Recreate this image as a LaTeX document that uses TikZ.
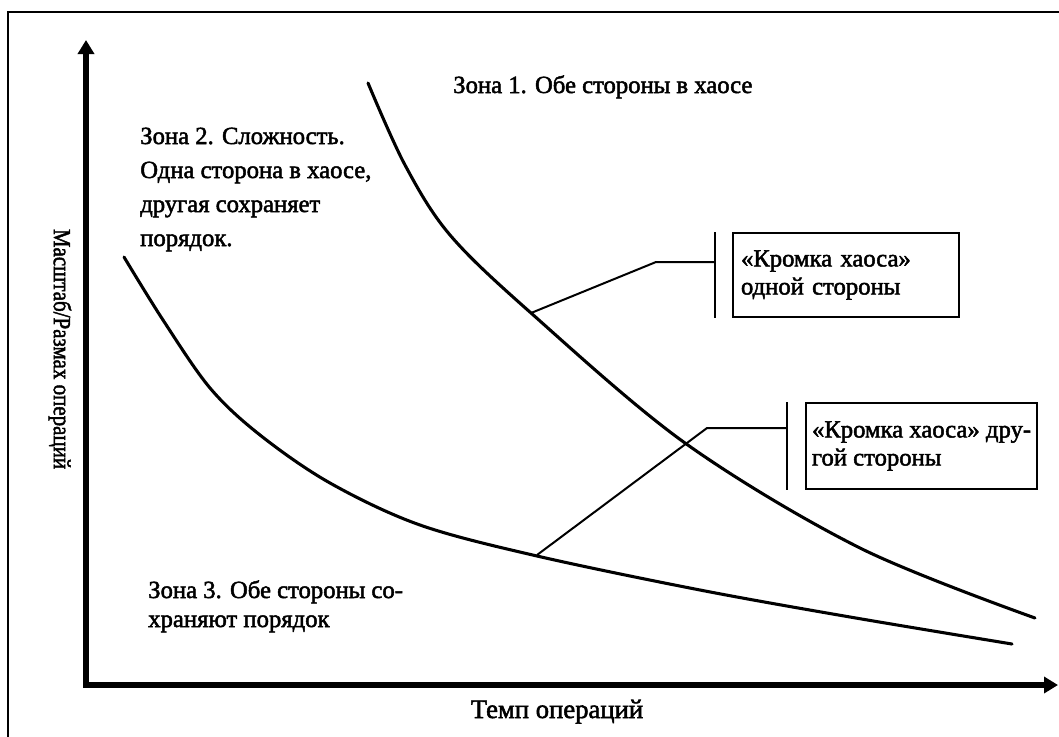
\documentclass[tikz,border=0pt]{standalone}
\usepackage{fontspec}
\setmainfont{Liberation Serif}
\newfontfamily\lblfont{Liberation Serif}[FakeBold=2]
\usetikzlibrary{arrows.meta}
\begin{document}
\begin{tikzpicture}[x=0.75pt,y=-0.75pt,
  frameline/.style={line width=1.5pt},
  axisline/.style={line width=4.2pt,line join=miter,
    arrows={Triangle[length=10.5pt,width=12pt]-Triangle[length=10.5pt,width=12pt]}},
  curveline/.style={line width=2.3pt,line cap=round},
  leader/.style={line width=1.5pt},
  label/.style={inner sep=0pt,align=left,font=\lblfont\fontsize{18.5}{25.3}\selectfont},
  callout/.style={draw,line width=1.5pt,align=left,anchor=north west,
    font=\lblfont\fontsize{18.5}{21}\selectfont,inner ysep=0pt},
]
\useasboundingbox (0,0) rectangle (1059,736);
\clip (0,0) rectangle (1059,736);

% outer frame
\draw[frameline] (8,12) rectangle (1080,760);

% axes
\coordinate (O) at (86,685);
\coordinate (ytop) at (86,40);
\coordinate (xend) at (1058,685);
\draw[axisline] (ytop) -- (O) -- (xend);

\node[label,rotate=-90] (ylab) at (60,349) {\scalebox{0.85}[1]{Масштаб/Размах операций}};
\node[label,anchor=base,font=\lblfont\fontsize{20}{24}\selectfont] (xlab) at (557,718) {Темп операций};

% the two edge-of-chaos curves
\draw[curveline] plot[smooth,tension=0.55] coordinates {
  (368,83) (405,165) (450,235) (531,313) (685,443) (860,548) (1035,618)};
\draw[curveline] plot[smooth,tension=0.55] coordinates {
  (124,257) (163,320) (210,388) (260,435) (330,483) (420,525) (537,556)
  (700,590) (850,617) (1012,644)};
\coordinate (p1) at (531,313);
\coordinate (p2) at (537,555);

% zone labels (anchored at the baseline of their last line)
\node[label,anchor=base west] (z1) at (453,93) {Зона 1. Обе стороны в хаосе};
\node[label,anchor=base west,font=\lblfont\fontsize{18.5}{25.5}\selectfont] (z2) at (140,246)
  {Зона 2. Сложность.\\Одна сторона в хаосе,\\другая сохраняет\\порядок.};
\node[label,anchor=base west,font=\lblfont\fontsize{18.5}{21.75}\selectfont] (z3) at (148,627)
  {Зона 3. Обе стороны со-\\храняют порядок};

% callouts
\node[callout,minimum width=169.5pt,minimum height=63pt,text width=157.5pt,inner xsep=6pt]
  (b1) at (732,232) {«Кромка хаоса»\\одной стороны};
\node[callout,minimum height=64.5pt,inner xsep=4.5pt]
  (b2) at (805,402) {«Кромка хаоса» дру-\\гой стороны};

\draw[leader] ([xshift=-12.75pt]b1.north west) -- ([xshift=-12.75pt]b1.south west);
\draw[leader] (p1) -- (656,262) -- ([xshift=-12.75pt]b1.west |- 0,262);
\draw[leader] ([xshift=-13.5pt]b2.north west) -- ([xshift=-13.5pt]b2.south west);
\draw[leader] (p2) -- (707,428) -- ([xshift=-13.5pt]b2.west |- 0,428);
\end{tikzpicture}
\end{document}
